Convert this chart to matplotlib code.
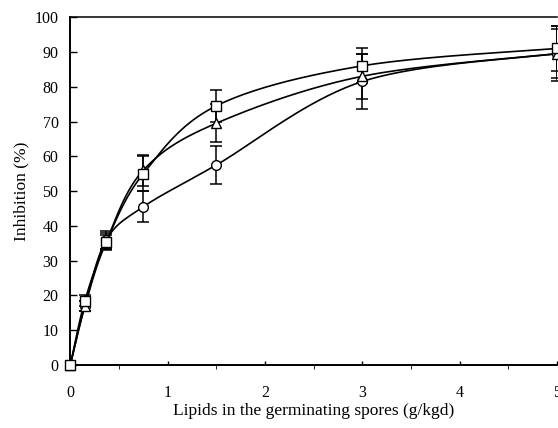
import matplotlib
matplotlib.use("Agg")
import matplotlib.pyplot as plt
import numpy as np
from matplotlib.ticker import MultipleLocator

plt.rcParams['font.family'] = ['Liberation Serif', 'DejaVu Serif']

# lipid content (g/kgd)
lipids = [0, 0.15, 0.37, 0.75, 1.5, 3.0, 5.0]

# inhibition (%) for the three series
inh_square = [0, 18.5, 35.5, 55, 74.5, 86, 91]
err_square = [0, 1.5, 2.5, 5, 4.5, 5, 6.5]
inh_triangle = [0, 17, 35.5, 56, 69.5, 83, 89.5]
err_triangle = [0, 1.5, 2, 4.5, 5.5, 6.5, 7]
inh_circle = [0, 17, 36, 45.5, 57.5, 81.5, 89.5]
err_circle = [0, 1.5, 2.5, 4.5, 5.5, 8, 8]


def smooth(x, y, sx=28.0, n=40):
    # Excel-like smoothed line (Catmull-Rom bezier) through the points
    p = np.column_stack([np.array(x) * sx, np.array(y, dtype=float)])
    out = []
    for i in range(len(p) - 1):
        p0 = p[i - 1] if i > 0 else p[i]
        p1, p2 = p[i], p[i + 1]
        p3 = p[i + 2] if i + 2 < len(p) else p[i + 1]
        c1 = p1 + (p2 - p0) / 6
        c2 = p2 - (p3 - p1) / 6
        t = np.linspace(0, 1, n)[:, None]
        seg = (1 - t) ** 3 * p1 + 3 * (1 - t) ** 2 * t * c1 + 3 * (1 - t) * t ** 2 * c2 + t ** 3 * p2
        out.append(seg)
    out = np.vstack(out)
    return out[:, 0] / sx, out[:, 1]


fig = plt.figure(figsize=(5.58, 4.28), dpi=100)
ax = fig.add_axes([0.126, 0.147, 0.872, 0.813])

series = [
    (inh_circle, err_circle, 'o'),
    (inh_triangle, err_triangle, '^'),
    (inh_square, err_square, 's'),
]
for vals, errs, mk in series:
    sx_, sy_ = smooth(lipids, vals)
    ax.plot(sx_, sy_, color='black', lw=1.2, zorder=2)
    ax.errorbar(lipids, vals, yerr=errs, fmt='none', ecolor='black',
                elinewidth=1.1, capsize=4, capthick=1.1, zorder=3)
    ax.plot(lipids, vals, linestyle='none', marker=mk, markersize=7,
            markerfacecolor='white', markeredgecolor='black',
            markeredgewidth=1.0, zorder=4, clip_on=False)

ax.set_xlim(0, 5)
ax.set_ylim(0, 100)
ax.xaxis.set_major_locator(MultipleLocator(1))
ax.xaxis.set_minor_locator(MultipleLocator(0.5))
ax.yaxis.set_major_locator(MultipleLocator(10))
ax.tick_params(direction='in', width=1, labelsize=11.5)
ax.tick_params(axis='x', which='both', length=3, pad=14)
ax.tick_params(axis='y', length=5, pad=8.5)
for s in ['left', 'bottom']:
    ax.spines[s].set_linewidth(1.4)
ax.spines['top'].set_linewidth(1.1)
ax.spines['right'].set_visible(False)

ax.set_xlabel('Lipids in the germinating spores (g/kgd)', fontsize=12.5, labelpad=1.5)
ax.set_ylabel('Inhibition (%)', fontsize=12.5, labelpad=3.5)

fig.savefig('out.png', dpi=100)
